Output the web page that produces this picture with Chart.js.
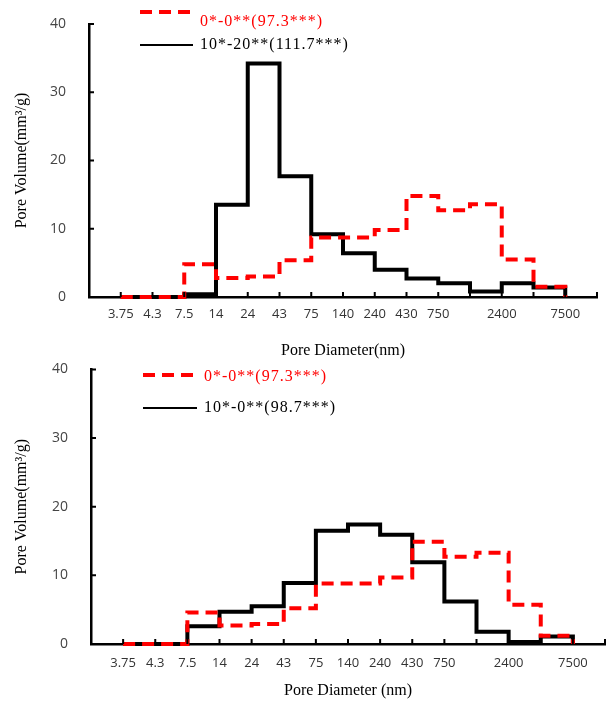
<!DOCTYPE html>
<html>
<head>
<meta charset="utf-8">
<script src="https://cdn.jsdelivr.net/npm/chart.js@4.4.1/dist/chart.umd.min.js"></script>
<style>
  html, body { margin: 0; padding: 0; background: #fff; }
  body { width: 607px; height: 710px; position: relative; overflow: hidden; }
  .panel { position: absolute; left: 0; width: 607px; }
  #top { top: 0; height: 362px; }
  #bottom { top: 346px; height: 364px; }
</style>
</head>
<body>
<div class="panel" id="top"><canvas id="chartTop"></canvas></div>
<div class="panel" id="bottom"><canvas id="chartBottom"></canvas></div>
<script>
// pore diameter classes (nm), one bin starts at each label
const diameterLabels = ['3.75', '4.3', '7.5', '14', '24', '43', '75', '140', '240', '430', '750', '', '2400', '', '7500'];
const yTicks = [0, 10, 20, 30, 40];

// pore volume (mm3/g) per bin
const control = [0, 0, 4.8, 2.8, 3.0, 5.4, 8.7, 8.7, 9.8, 14.8, 12.7, 13.6, 5.5, 1.5, 0];
const mix10_20 = [0, 0, 0.4, 13.5, 34.2, 17.7, 9.2, 6.4, 4.0, 2.7, 2.0, 0.8, 2.0, 1.4, 0];
const controlB = [0, 0, 4.6, 2.7, 2.9, 5.2, 8.8, 8.8, 9.7, 14.9, 12.7, 13.3, 5.7, 1.2, 0];
const mix10_0 = [0, 0, 2.6, 4.7, 5.5, 8.9, 16.5, 17.4, 15.9, 11.9, 6.2, 1.8, 0.3, 1.1, 0];

const labelsTop = ['0*-0**(97.3***)', '10*-20**(111.7***)'];
const labelsBottom = ['0*-0**(97.3***)', '10*-0**(98.7***)'];

Chart.defaults.font.family = 'Open Sans';
Chart.defaults.color = '#333';

function toPoints(values) {
  return diameterLabels.map((l, i) => ({ x: i + 1, y: values[i] }));
}

// inward tick marks + legend drawn by hand
const extrasPlugin = {
  id: 'extras',
  afterDraw(chart, args, opts) {
    const ctx = chart.ctx;
    const area = chart.chartArea;
    const xs = chart.scales.x;
    const ys = chart.scales.y;
    ctx.save();
    ctx.strokeStyle = '#000';
    ctx.lineWidth = 2;
    ctx.beginPath();
    for (let i = 1; i <= diameterLabels.length + 1; i++) {
      const px = xs.getPixelForValue(i);
      ctx.moveTo(px, area.bottom);
      ctx.lineTo(px, area.bottom - 5);
    }
    yTicks.slice(1).forEach(v => {
      const py = ys.getPixelForValue(v);
      ctx.moveTo(area.left, py);
      ctx.lineTo(area.left + 5, py);
    });
    ctx.stroke();

    // legend
    ctx.font = '16px "Liberation Serif"';
    ctx.letterSpacing = '1px';
    ctx.textBaseline = 'middle';
    chart.data.datasets.forEach((ds, i) => {
      const it = opts.items[i];
      ctx.beginPath();
      ctx.strokeStyle = ds.borderColor;
      ctx.lineWidth = it.lw;
      ctx.setLineDash(ds.borderDash || []);
      ctx.moveTo(opts.x, it.ly);
      ctx.lineTo(opts.x + opts.len, it.ly);
      ctx.stroke();
      ctx.setLineDash([]);
      ctx.fillStyle = ds.borderColor;
      ctx.fillText(ds.label, opts.x + opts.len + 7, it.ty);
    });
    ctx.restore();
  }
};

function makeChart(id, seriesA, seriesB, names, L) {
  return new Chart(document.getElementById(id), {
    type: 'line',
    data: {
      datasets: [
        {
          label: names[0],
          data: toPoints(seriesA),
          borderColor: '#ff0000',
          borderWidth: 4,
          borderDash: [12, 7],
          stepped: 'before',
          pointRadius: 0,
          clip: false,
        },
        {
          label: names[1],
          data: toPoints(seriesB),
          borderColor: '#000000',
          borderWidth: 4,
          stepped: 'before',
          pointRadius: 0,
          clip: false,
        },
      ],
    },
    options: {
      responsive: true,
      maintainAspectRatio: false,
      animation: false,
      layout: { padding: { top: L.top, right: L.right, left: 0, bottom: 0 } },
      plugins: {
        legend: { display: false },
        tooltip: { enabled: false },
        extras: L.legend,
      },
      scales: {
        x: {
          type: 'linear',
          min: 0,
          max: diameterLabels.length + 1,
          grid: { display: false },
          border: { display: true, color: '#000', width: 2.5 },
          afterBuildTicks: (scale) => {
            scale.ticks = diameterLabels.map((l, i) => ({ value: i + 1 }));
          },
          afterFit: (scale) => { scale.height = L.xHeight; },
          ticks: {
            autoSkip: false,
            maxRotation: 0,
            padding: L.xPad,
            font: { size: 13 },
            callback: (v) => diameterLabels[v - 1] || '',
          },
          title: {
            display: true,
            text: L.xTitle,
            color: '#000',
            font: { family: 'Liberation Serif', size: 16 },
            padding: { top: 4, bottom: L.titlePad },
          },
        },
        y: {
          min: 0,
          max: 40,
          grid: { display: false },
          border: { display: true, color: '#000', width: 2.5 },
          afterFit: (scale) => { scale.width = L.yWidth; },
          ticks: { stepSize: 10, padding: 15, font: { size: 14 }, color: '#444' },
          title: {
            display: true,
            text: 'Pore Volume(mm\u00b3/g)',
            color: '#000',
            font: { family: 'Liberation Serif', size: 16 },
            padding: { top: 12, bottom: 0 },
          },
        },
      },
    },
    plugins: [extrasPlugin],
  });
}

makeChart('chartTop', control, mix10_20, labelsTop, {
  top: 24, right: 10, xHeight: 65, yWidth: 89, xPad: 1, titlePad: 2,
  xTitle: 'Pore Diameter(nm)',
  legend: { x: 140, len: 53, items: [{ ly: 12, ty: 22, lw: 4 }, { ly: 45, ty: 45, lw: 2 }] },
});

makeChart('chartBottom', controlB, mix10_0, labelsBottom, {
  top: 2, right: 2, xHeight: 66, yWidth: 91, xPad: 3, titlePad: 10,
  xTitle: 'Pore Diameter (nm)',
  legend: { x: 143, len: 54, items: [{ ly: 29, ty: 31, lw: 4 }, { ly: 62, ty: 62, lw: 2 }] },
});
</script>
</body>
</html>
